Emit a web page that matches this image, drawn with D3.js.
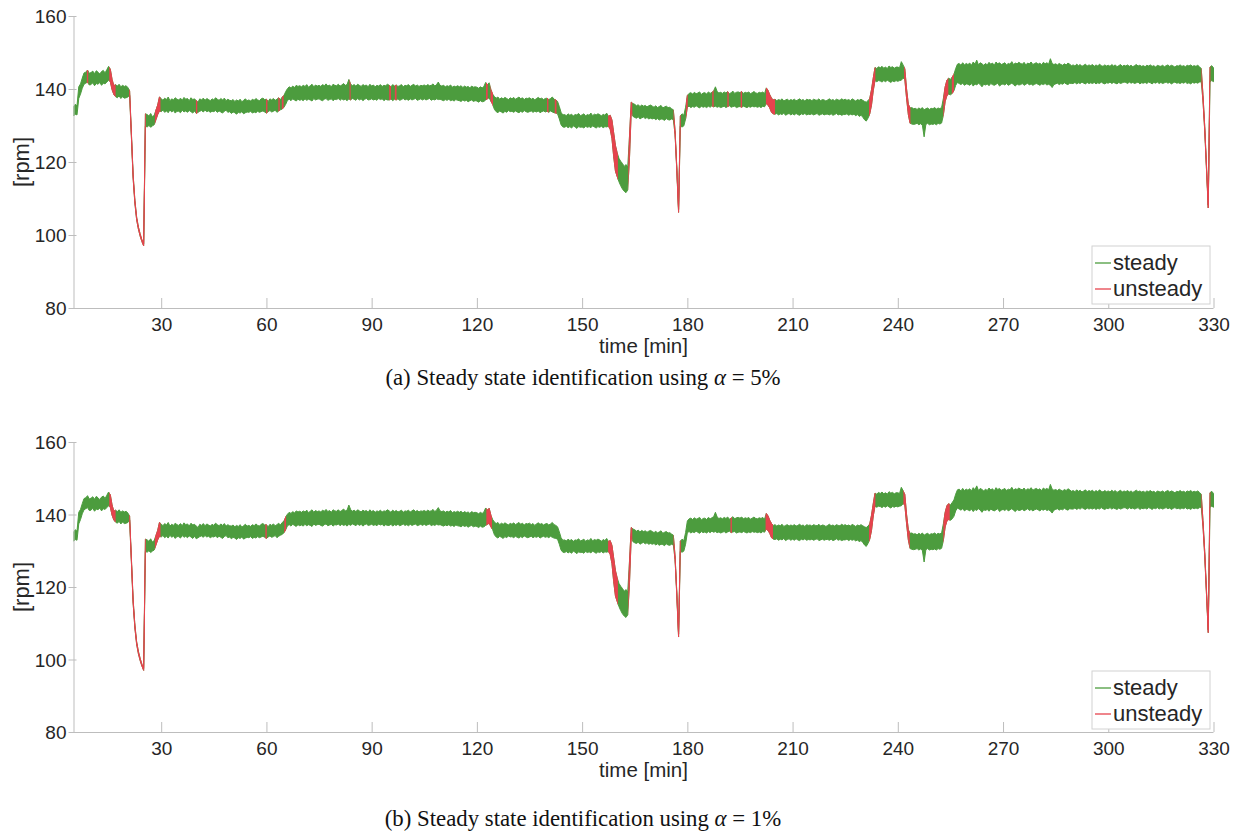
<!DOCTYPE html>
<html>
<head>
<meta charset="utf-8">
<script src="https://cdn.jsdelivr.net/npm/d3@7"></script>
<style>
  body { margin: 0; background: #fff; }
  svg { display: block; }
</style>
</head>
<body>
<svg id="fig" width="1239" height="835"></svg>
<script>
// Rotor speed log, sampled every half minute; each sample keeps the
// upper and lower edge of the signal's noise band [rpm].
const sampleStart = 5;
const sampleStep = 0.5;

const rpmUpper = [
  135.2,135.8,135.4,140.6,141.4,143.0,144.4,144.6,145.2,144.3,
  144.5,144.9,144.2,145.0,144.6,144.1,144.8,145.1,144.4,145.3,
  146.2,145.4,142.6,140.9,141.2,140.8,141.3,140.6,141.0,140.7,
  140.9,140.4,139.5,128.0,116.5,109.5,104.9,102.2,100.3,98.7,
  97.6,133.2,133.0,132.6,133.3,132.4,132.8,134.2,135.6,137.8,
  137.4,136.9,137.5,137.1,137.8,136.8,137.3,137.0,137.6,137.2,
  137.0,137.5,136.9,137.7,137.2,137.4,136.8,137.6,137.1,137.3,
  136.8,136.4,137.3,137.0,137.5,136.9,137.4,137.1,136.8,137.3,
  137.0,137.6,137.2,136.9,137.4,137.0,137.5,136.8,137.2,136.9,
  136.8,137.1,136.6,137.0,136.7,137.2,136.5,136.9,137.3,136.8,
  137.0,136.7,137.2,136.9,137.4,137.0,136.8,137.3,137.5,137.1,
  137.2,136.6,137.3,137.0,137.4,136.9,137.2,137.6,137.1,137.8,
  138.2,139.3,140.1,140.6,140.3,140.8,140.4,141.0,140.7,140.9,
  140.6,141.0,140.7,141.2,140.5,140.9,141.3,140.6,141.1,140.8,
  141.0,140.7,141.2,140.9,141.4,140.8,141.1,140.6,141.3,141.0,
  140.9,141.3,140.8,141.1,141.5,141.0,141.2,142.6,141.4,140.9,
  141.2,140.8,141.3,141.0,140.7,141.2,140.9,141.1,140.6,141.3,
  140.8,141.1,140.6,141.0,140.8,141.2,140.7,141.0,140.9,141.3,
  141.0,140.6,141.2,140.8,141.1,140.7,140.9,141.2,140.6,141.0,
  140.9,141.2,140.7,141.0,141.3,140.8,141.1,140.7,141.0,140.9,
  141.1,140.8,141.2,140.9,141.0,141.4,140.8,141.2,141.9,141.0,
  140.8,141.0,140.6,140.9,140.7,141.1,140.5,140.8,140.6,140.9,
  140.6,140.9,140.4,140.8,140.5,140.7,140.3,140.8,140.5,140.6,
  140.5,140.2,140.6,140.3,140.7,141.8,141.2,141.7,139.8,138.6,
  137.9,137.5,137.8,137.2,137.6,137.3,137.7,137.4,137.1,137.6,
  137.3,137.7,137.2,137.5,137.8,137.3,137.6,137.1,137.5,137.4,
  137.6,137.2,137.5,137.0,137.4,137.7,137.3,137.5,137.1,137.4,
  137.5,137.1,137.4,137.8,137.2,137.0,136.6,135.2,133.6,132.9,
  133.0,132.7,133.2,132.8,133.1,132.6,133.0,132.9,133.3,132.7,
  132.9,133.2,132.6,133.0,132.8,133.4,132.7,133.1,132.9,133.2,
  133.0,132.6,133.1,132.8,133.4,132.5,132.8,131.5,128.0,124.5,
  122.5,121.0,120.2,119.6,118.8,119.3,118.6,127.0,136.4,136.0,
  135.8,135.4,135.7,135.2,135.6,135.3,135.5,135.1,135.4,135.6,
  135.3,135.0,135.4,134.9,135.2,135.5,134.8,135.1,135.3,134.9,
  135.0,134.6,134.3,128.6,118.4,107.0,132.6,133.2,132.8,135.0,
  138.2,138.8,139.0,138.6,139.1,138.7,138.9,139.2,138.5,138.9,
  139.0,138.6,139.2,138.8,139.1,139.4,140.6,139.3,138.9,139.1,
  138.8,139.2,138.9,139.3,138.7,139.0,139.4,138.8,139.1,139.2,
  139.0,139.3,138.8,139.1,138.9,139.2,138.7,139.0,139.3,138.9,
  138.8,139.1,138.9,139.2,138.7,140.3,139.6,138.4,137.5,137.0,
  137.2,136.8,137.1,136.9,137.3,136.7,137.0,137.2,136.8,137.1,
  136.9,137.2,136.8,137.0,137.3,136.9,137.1,136.7,137.2,137.0,
  137.1,136.8,137.2,137.0,136.9,137.3,136.8,137.1,137.0,136.7,
  137.0,137.3,136.9,137.1,136.8,137.2,137.0,136.9,137.3,137.0,
  137.2,136.9,137.1,136.8,137.3,137.0,136.7,137.1,136.9,137.2,
  136.9,136.6,136.4,136.8,137.4,139.8,143.0,145.9,145.6,146.1,
  145.8,146.2,145.7,146.0,145.6,146.3,145.9,146.1,145.7,146.0,
  146.0,145.8,147.5,146.6,145.5,140.0,135.8,134.8,134.9,134.6,
  134.7,134.4,134.8,134.5,134.9,134.3,134.6,134.8,134.4,134.7,
  134.6,134.9,134.5,134.8,134.6,135.0,137.5,140.6,142.4,143.0,
  142.6,143.3,144.0,145.6,146.8,147.0,146.5,147.2,146.6,147.0,
  146.7,147.1,146.5,147.4,146.8,147.9,146.6,147.2,146.9,146.5,
  147.0,146.6,147.3,146.8,147.1,146.5,147.4,146.9,147.2,146.7,
  146.9,147.2,146.6,147.0,146.8,147.5,146.7,147.1,146.9,147.3,
  147.0,146.8,147.3,146.6,147.1,146.9,147.4,146.7,147.0,147.2,
  146.8,147.1,146.6,147.3,146.9,147.2,146.8,148.3,147.0,146.7,
  146.9,146.6,147.0,146.7,146.5,146.9,146.6,147.1,146.8,146.4,
  146.6,146.3,146.8,146.4,146.7,146.2,146.5,146.8,146.3,146.6,
  146.4,146.7,146.2,146.6,146.3,146.8,146.4,146.2,146.6,146.3,
  146.5,146.2,146.7,146.3,146.6,146.1,146.4,146.7,146.2,146.5,
  146.3,146.6,146.2,146.5,146.1,146.4,146.7,146.3,146.5,146.2,
  146.4,146.1,146.5,146.3,146.6,146.2,146.4,146.0,146.5,146.3,
  146.2,146.5,146.1,146.4,146.6,146.2,146.5,146.3,146.0,146.4,
  146.3,146.6,146.2,146.4,146.1,146.5,146.3,146.6,146.2,146.4,
  146.2,146.5,146.1,145.6,138.4,129.8,119.0,108.2,146.0,146.4,
  145.8
];

const rpmLower = [
  132.6,133.1,132.9,137.4,138.6,140.2,141.3,141.6,141.9,141.1,
  141.2,141.7,140.9,141.5,141.3,141.8,141.0,141.6,141.4,141.9,
  142.4,142.0,139.8,138.5,137.9,137.6,138.1,137.4,137.9,137.5,
  137.6,137.8,138.3,127.0,115.5,108.7,104.2,101.6,99.7,98.2,
  97.0,129.8,129.6,130.0,129.5,129.9,130.2,131.6,133.0,134.0,
  133.8,134.2,133.6,134.0,133.5,134.3,133.7,134.1,133.4,133.9,
  133.9,133.5,134.2,133.7,134.0,133.6,134.1,133.8,133.4,134.0,
  133.3,133.6,133.9,134.1,133.7,134.2,133.8,134.0,133.6,133.9,
  133.8,134.1,133.6,134.0,133.7,133.4,133.9,134.2,133.6,133.8,
  133.3,133.7,133.5,133.1,133.6,133.4,133.8,133.2,133.5,133.7,
  133.6,133.9,133.4,133.7,133.5,133.9,133.6,133.8,134.0,133.7,
  133.4,133.8,134.1,133.7,133.9,134.2,133.6,134.0,134.3,134.5,
  135.0,135.8,136.9,137.2,136.8,137.3,137.0,136.7,137.2,136.9,
  137.1,136.8,137.3,136.9,137.2,137.0,136.7,137.4,137.0,137.2,
  137.3,137.0,136.8,137.2,137.4,136.9,137.1,137.3,136.8,137.2,
  137.1,137.4,136.9,137.3,137.0,137.2,136.8,137.3,137.0,137.4,
  137.2,136.9,137.4,137.0,137.3,136.8,137.2,137.4,137.0,137.1,
  137.3,137.0,137.2,136.9,137.4,137.1,137.3,136.8,137.2,137.0,
  137.0,137.3,136.8,137.2,137.0,137.3,136.9,137.1,137.4,137.0,
  137.2,136.9,137.3,137.0,137.2,137.4,136.9,137.1,137.3,137.0,
  137.3,137.0,137.2,137.4,136.9,137.2,137.0,137.3,137.1,137.2,
  137.0,136.8,137.1,136.9,137.2,136.8,137.0,136.7,137.1,136.9,
  136.8,136.6,137.0,136.7,136.9,136.5,136.8,137.0,136.6,136.8,
  136.7,136.4,136.8,136.5,136.6,137.0,137.3,137.6,136.6,135.8,
  134.4,133.8,133.5,134.0,133.7,133.4,133.9,133.6,134.1,133.8,
  133.9,133.6,134.0,133.7,133.5,133.9,133.6,134.1,133.8,133.6,
  133.8,134.0,133.6,133.9,133.7,134.0,133.5,133.8,134.0,133.7,
  133.9,133.6,134.0,133.7,133.5,133.4,133.2,131.8,130.2,129.6,
  129.5,129.8,129.4,129.7,129.3,129.9,129.6,129.2,129.7,129.5,
  129.6,129.3,129.8,129.5,129.7,129.4,129.9,129.6,129.3,129.7,
  129.5,129.8,129.4,129.7,129.6,129.8,129.0,126.5,121.5,117.5,
  116.0,114.6,113.5,112.6,112.0,111.6,112.3,121.0,133.8,132.5,
  132.2,132.0,132.4,131.8,132.1,132.3,131.9,132.2,131.8,132.0,
  131.8,132.0,131.6,131.9,131.5,131.8,131.7,131.4,131.9,131.6,
  131.5,131.8,131.6,127.6,117.6,106.2,129.8,129.6,129.9,131.8,
  135.0,135.3,134.9,135.2,135.0,135.4,135.1,134.8,135.3,135.0,
  135.2,134.9,135.3,135.0,135.4,135.1,135.3,135.0,135.2,134.9,
  135.1,135.3,134.9,135.2,135.4,135.0,135.2,135.3,134.9,135.1,
  135.2,135.0,135.3,135.1,134.9,135.2,135.0,135.3,135.1,135.2,
  135.0,135.2,134.9,135.3,135.1,136.0,135.6,134.8,133.6,133.2,
  133.1,133.3,132.9,133.2,133.0,133.4,132.8,133.1,133.3,132.9,
  133.2,132.9,133.3,133.0,132.8,133.2,133.0,133.3,132.9,133.1,
  133.0,133.2,132.9,133.1,133.3,132.8,133.0,133.2,132.9,133.1,
  133.1,132.9,133.2,132.8,133.0,133.3,132.9,133.1,132.8,133.0,
  133.0,133.2,132.8,133.1,132.9,133.1,132.7,133.0,132.5,132.8,
  132.3,131.6,131.2,132.0,133.2,135.6,139.6,142.3,142.0,142.3,
  142.2,141.9,142.3,142.0,142.4,142.1,141.8,142.2,142.0,142.3,
  142.1,142.3,142.4,143.0,142.6,137.5,133.0,130.6,130.4,130.3,
  130.4,130.6,130.2,130.5,130.1,126.9,130.3,130.6,130.2,130.4,
  130.3,130.5,130.2,130.6,130.4,130.7,133.0,136.6,138.2,138.6,
  138.4,138.8,139.5,141.0,141.8,141.5,141.2,141.6,141.0,141.4,
  141.3,141.0,141.5,140.8,141.4,141.1,141.6,141.2,140.6,141.3,
  141.1,141.4,140.9,141.5,141.2,141.0,141.3,141.6,140.8,141.2,
  141.4,141.1,141.5,141.0,141.3,141.6,141.2,140.8,141.4,141.1,
  141.2,141.5,141.0,141.3,141.6,141.1,141.4,141.0,141.3,141.5,
  141.3,141.0,141.4,141.2,141.5,141.1,141.3,141.0,140.4,141.2,
  141.4,141.6,141.2,141.5,141.3,141.7,141.4,141.2,141.6,141.5,
  141.5,141.8,141.4,141.7,141.5,141.9,141.6,141.4,141.8,141.5,
  141.7,141.5,141.8,141.4,141.7,141.5,141.9,141.6,141.4,141.7,
  141.6,141.9,141.5,141.8,141.6,141.4,141.8,141.5,141.7,141.9,
  141.8,141.5,141.9,141.6,141.8,141.5,141.7,141.9,141.4,141.7,
  141.6,141.8,141.5,141.9,141.7,141.4,141.8,141.6,141.9,141.5,
  141.8,141.5,141.7,141.9,141.6,141.8,141.4,141.7,141.9,141.6,
  141.7,141.5,141.8,141.6,141.9,141.5,141.7,141.4,141.8,141.6,
  141.8,141.6,141.9,142.0,136.8,128.6,118.0,107.4,142.0,142.3,
  142.0
];

// Intervals [start, end] in minutes flagged as unsteady by each test level
const unsteadyAlpha5 = [
  [8.8, 9.2], [15.2, 17.0], [20.9, 25.6], [28.2, 29.8], [39.9, 40.3],
  [59.9, 60.3], [63.4, 63.8], [64.4, 64.9], [83.7, 84.0], [95.0, 95.5],
  [96.6, 97.1], [122.6, 123.1], [123.9, 124.6], [140.0, 140.4],
  [142.2, 142.7], [157.4, 160.2], [163.2, 164.3], [176.1, 178.1],
  [179.6, 180.1], [187.1, 187.5], [191.4, 191.8], [195.2, 195.6],
  [202.4, 205.0], [231.8, 233.6], [241.8, 243.6], [253.0, 254.4],
  [255.4, 256.0], [326.6, 329.1]
];
const unsteadyAlpha1 = [
  [15.2, 17.0], [20.9, 25.6], [28.2, 29.8], [59.7, 60.1], [65.1, 65.6],
  [122.7, 124.3], [157.4, 160.2], [163.2, 164.3], [176.1, 178.1],
  [192.3, 192.7], [202.3, 204.4], [231.8, 233.6], [241.6, 243.4],
  [253.0, 254.8], [326.6, 329.1]
];

const timeTicks = [30, 60, 90, 120, 150, 180, 210, 240, 270, 300, 330];
const rpmTicks = [80, 100, 120, 140, 160];
const legendLabels = ["steady", "unsteady"];
const captionParts = [
  ["(a) Steady state identification using ", "\u03b1", " = 5%"],
  ["(b) Steady state identification using ", "\u03b1", " = 1%"]
];

// ---- drawing ----
const COLORS = { steady: "#4c9c3e", unsteady: "#e6434e" };
const AXIS_COLOR = "#bdbdbd";
const TEXT_COLOR = "#262626";
const SANS = "'Liberation Sans', Arial, Helvetica, sans-serif";
const SERIF = "'Liberation Serif', 'Times New Roman', serif";

const minutes = rpmUpper.map((_, i) => sampleStart + i * sampleStep);
const idx = d3.range(rpmUpper.length);

const svg = d3.select("#fig");
const layout = [
  { top: 16,  bottom: 308, intervals: unsteadyAlpha5, legendTop: 246, captionY: 385 },
  { top: 442, bottom: 732, intervals: unsteadyAlpha1, legendTop: 671, captionY: 826 }
];
const plotLeft = 73.5, plotRight = 1213.5;

layout.forEach((p, k) => {
  const g = svg.append("g");
  const x = d3.scaleLinear().domain([5, 330]).range([plotLeft, plotRight]);
  const y = d3.scaleLinear().domain([80, 160]).range([p.bottom, p.top]);

  const band = d3.area()
    .x(i => x(minutes[i]))
    .y0(i => y(rpmLower[i]))
    .y1(i => y(rpmUpper[i]));

  const defs = g.append("defs");
  const plotClipId = "plotclip" + k;
  defs.append("clipPath").attr("id", plotClipId)
    .append("rect")
    .attr("x", plotLeft).attr("y", p.top - 10)
    .attr("width", plotRight - plotLeft + 4).attr("height", p.bottom - p.top + 10);

  const redClipId = "redclip" + k;
  defs.append("clipPath").attr("id", redClipId)
    .selectAll("rect").data(p.intervals).join("rect")
    .attr("x", d => x(d[0])).attr("width", d => x(d[1]) - x(d[0]))
    .attr("y", p.top - 10).attr("height", p.bottom - p.top + 10);

  const lines = g.append("g").attr("clip-path", `url(#${plotClipId})`);
  lines.append("path")
    .attr("d", band(idx))
    .attr("fill", COLORS.steady)
    .attr("stroke", COLORS.steady)
    .attr("stroke-width", 1)
    .attr("stroke-linejoin", "round");
  lines.append("g").attr("clip-path", `url(#${redClipId})`)
    .append("path")
    .attr("d", band(idx))
    .attr("fill", COLORS.unsteady)
    .attr("stroke", COLORS.unsteady)
    .attr("stroke-width", 1)
    .attr("stroke-linejoin", "round");

  // x axis
  const xAxis = g.append("g").attr("transform", `translate(0,${p.bottom})`)
    .call(d3.axisBottom(x).tickValues(timeTicks).tickSizeInner(-10).tickSizeOuter(0).tickFormat(d3.format("d")));
  xAxis.select(".domain").attr("stroke", AXIS_COLOR).attr("d", `M${plotLeft},0.5H${plotRight}`);
  xAxis.selectAll(".tick line").attr("stroke", AXIS_COLOR);
  xAxis.selectAll(".tick text")
    .attr("y", 23).attr("dy", null)
    .attr("fill", TEXT_COLOR)
    .style("font-family", SANS).style("font-size", "19px");

  // y axis
  const yAxis = g.append("g").attr("transform", `translate(${plotLeft},0)`)
    .call(d3.axisLeft(y).tickValues(rpmTicks).tickSizeInner(5).tickSizeOuter(0).tickPadding(2));
  yAxis.select(".domain").attr("stroke", AXIS_COLOR).attr("d", `M0.5,${p.top}V${p.bottom}`);
  yAxis.selectAll(".tick line").attr("stroke", AXIS_COLOR).attr("x1", 3);
  yAxis.selectAll(".tick text")
    .attr("fill", TEXT_COLOR)
    .attr("dy", "0.36em")
    .style("font-family", SANS).style("font-size", "19px");

  // axis titles
  g.append("text")
    .attr("x", (plotLeft + plotRight) / 2).attr("y", p.bottom + 45)
    .attr("text-anchor", "middle").attr("fill", TEXT_COLOR)
    .style("font-family", SANS).style("font-size", "20.5px")
    .text("time [min]");
  g.append("text")
    .attr("transform", `translate(29,${(p.top + p.bottom) / 2}) rotate(-90)`)
    .attr("text-anchor", "middle").attr("fill", TEXT_COLOR)
    .style("font-family", SANS).style("font-size", "22px")
    .text("[rpm]");

  // legend
  const lg = g.append("g").attr("transform", `translate(1092,${p.legendTop})`);
  lg.append("rect").attr("width", 118).attr("height", 58)
    .attr("fill", "#fff").attr("stroke", "#d2d2d2").attr("stroke-width", 1);
  legendLabels.forEach((name, j) => {
    const ly = 17 + j * 26;
    lg.append("line").attr("x1", 3).attr("x2", 19).attr("y1", ly).attr("y2", ly)
      .attr("stroke", COLORS[name]).attr("stroke-width", 1.3);
    lg.append("text").attr("x", 21).attr("y", ly + 7)
      .attr("fill", TEXT_COLOR)
      .style("font-family", SANS).style("font-size", "22px")
      .text(name);
  });

  // caption
  const cap = g.append("text")
    .attr("x", 583).attr("y", p.captionY)
    .attr("text-anchor", "middle").attr("fill", "#111")
    .style("font-family", SERIF).style("font-size", "22.8px");
  const parts = captionParts[k];
  cap.append("tspan").text(parts[0]);
  cap.append("tspan").style("font-style", "italic").text(parts[1]);
  cap.append("tspan").text(parts[2]);
});
</script>
</body>
</html>
